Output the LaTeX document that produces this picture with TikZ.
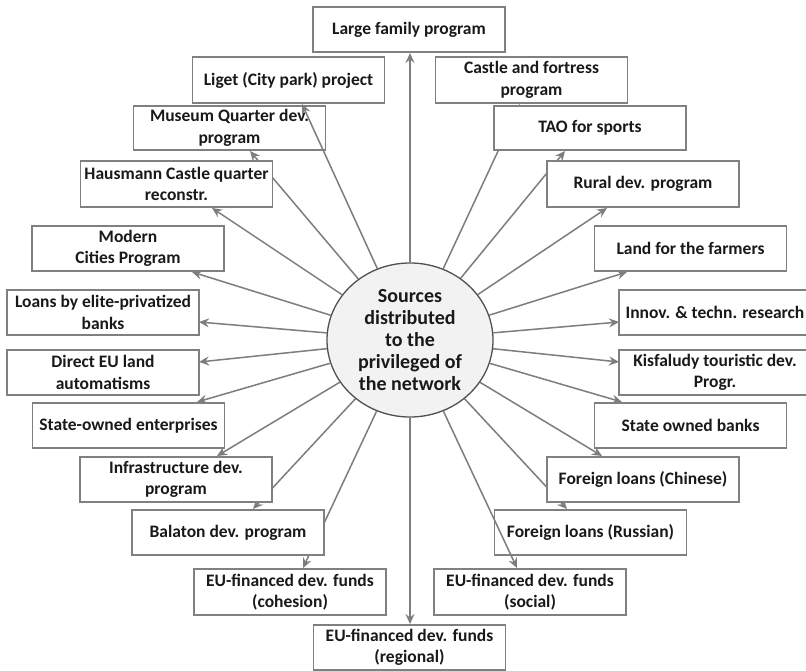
\documentclass[tikz,border=0pt]{standalone}
\usepackage{fontspec}
\setmainfont{Carlito}
\usetikzlibrary{arrows.meta,shapes.geometric}
\definecolor{boxgray}{RGB}{128,128,128}
\definecolor{arrgray}{RGB}{125,125,125}
\definecolor{circgray}{RGB}{242,242,242}
\definecolor{circline}{RGB}{80,80,80}
\definecolor{txt}{RGB}{25,25,25}
\tikzset{
  box/.style={draw=boxgray, line width=1.9pt, fill=white, minimum width=192pt, minimum height=45pt,
    inner sep=1pt, align=center, text=txt, font=\fontsize{17.5}{21.5}\selectfont\bfseries},
  hub/.style={ellipse, draw=circline, line width=1.3pt, fill=circgray, minimum width=166pt, minimum height=154pt,
    inner sep=0pt, align=center, text=txt, font=\fontsize{20}{22}\selectfont\bfseries},
  arr/.style={draw=arrgray, line width=1.5pt, -{Stealth[length=10pt,width=9pt,inset=3.5pt]}}
}
\begin{document}
\begin{tikzpicture}[x=1pt,y=-1pt]
\useasboundingbox (0,0) rectangle (806,671);
\fill[white] (0,0) rectangle (806,671);

\node[hub] (c) at (410,340) {Sources\\distributed\\to the\\privileged of\\the network};

% arrow tips
\coordinate (t-large) at (410,53);
\coordinate (t-liget) at (302,104);
\coordinate (t-castle) at (520,104);
\coordinate (t-museum) at (250,151);
\coordinate (t-tao) at (565,151);
\coordinate (t-haus) at (212,208);
\coordinate (t-rural) at (607,208);
\coordinate (t-modern) at (192,272);
\coordinate (t-land) at (627,272);
\coordinate (t-loans) at (199,322);
\coordinate (t-innov) at (619,322);
\coordinate (t-direct) at (199,362);
\coordinate (t-kisf) at (619,362);
\coordinate (t-soe) at (197,402);
\coordinate (t-sob) at (622,402);
\coordinate (t-infra) at (217,456);
\coordinate (t-chin) at (602,456);
\coordinate (t-bal) at (253,509);
\coordinate (t-rus) at (567,509);
\coordinate (t-coh) at (303,568);
\coordinate (t-soc) at (517,568);
\coordinate (t-reg) at (410,624);

\foreach \t in {large,castle,museum,tao,haus,rural,modern,land,loans,innov,direct,kisf,soe,sob,infra,chin,bal,rus,coh,reg}
  \draw[arr] (c) -- (t-\t);

% boxes
\node[box] (large) at (409,29.5) {Large family program};
\node[box, minimum height=46pt] (liget) at (288.5,80) {Liget (City park) project};
\node[box, minimum height=46pt] (castle) at (531.5,80) {Castle and fortress\\program};
\node[box, minimum height=44pt] (museum) at (229.5,128) {Museum Quarter dev.\\program};
\node[box, minimum height=44pt] (tao) at (590,128) {TAO for sports};
\node[box, minimum height=46pt] (haus) at (176.5,184) {Hausmann Castle quarter\\reconstr.};
\node[box, minimum height=46pt] (rural) at (643,184) {Rural dev. program};
\node[box] (modern) at (128,248.5) {Modern\\Cities Program};
\node[box] (land) at (690.5,248.5) {Land for the farmers};
\node[box] (loans) at (103,312.5) {Loans by elite-privatized\\banks};
\node[box] (innov) at (715,312.5) {Innov. \& techn. research};
\node[box] (direct) at (103,372.5) {Direct EU land\\automatisms};
\node[box] (kisf) at (715,372.5) {Kisfaludy touristic dev.\\Progr.};
\node[box] (soe) at (128.5,425.5) {State-owned enterprises};
\node[box] (sob) at (690.5,425.5) {State owned banks};
\node[box] (infra) at (176,479.5) {Infrastructure dev.\\program};
\node[box] (chin) at (643,479.5) {Foreign loans (Chinese)};
\node[box] (bal) at (228,532.5) {Balaton dev. program};
\node[box] (rus) at (590.5,532.5) {Foreign loans (Russian)};
\node[box, minimum height=46pt] (coh) at (290,592) {EU-financed dev. funds\\(cohesion)};
\node[box, minimum height=46pt] (soc) at (530,592) {EU-financed dev. funds\\(social)};
\node[box] (reg) at (409.5,647.5) {EU-financed dev. funds\\(regional)};

% arrows drawn over boxes
\draw[arr] (c) -- (t-liget);
\draw[arr] (c) -- (t-soc);
\end{tikzpicture}
\end{document}
